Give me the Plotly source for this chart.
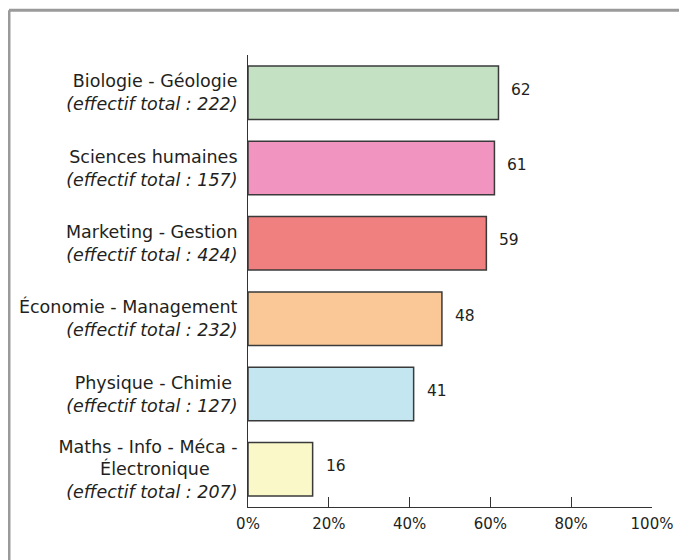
import plotly.graph_objects as go

categories = [
    "Biologie - Géologie<br><i>(effectif total : 222)</i>",
    "Sciences humaines<br><i>(effectif total : 157)</i>",
    "Marketing - Gestion<br><i>(effectif total : 424)</i>",
    "Économie - Management<br><i>(effectif total : 232)</i>",
    "Physique - Chimie <br><i>(effectif total : 127)</i>",
    "Maths - Info - Méca -<br>Électronique     <br><i>(effectif total : 207)</i>",
]
values = [62, 61, 59, 48, 41, 16]
colors = ["#c5e1c4", "#f194bf", "#f08080", "#fac897", "#c4e6f0", "#faf8c8"]
x_ticks = [0, 20, 40, 60, 80, 100]
x_tick_text = ["0%", "20%", "40%", "60%", "80%", "100%"]

FONT = "DejaVu Sans"
TXT = "#231f20"

fig = go.Figure()
fig.add_trace(go.Bar(
    x=values,
    y=categories,
    orientation="h",
    marker=dict(color=colors, line=dict(color="#3a3a3a", width=1.5)),
    width=0.71,
    hoverinfo="skip",
))

for v, c in zip(values, categories):
    fig.add_annotation(
        x=v, y=c, text=str(v), showarrow=False,
        xanchor="left", xshift=11, yshift=3,
        font=dict(family=FONT, size=15.5, color=TXT),
    )

# outer gray frame (partially visible)
fig.add_shape(type="line", xref="paper", yref="paper",
              x0=-0.5916, x1=1.2, y0=1.099, y1=1.099,
              line=dict(color="#9a9a9a", width=3))
fig.add_shape(type="line", xref="paper", yref="paper",
              x0=-0.5916, x1=-0.5916, y0=1.099, y1=-0.3,
              line=dict(color="#9a9a9a", width=3))

fig.update_layout(
    width=679, height=552,
    margin=dict(l=240, r=35, t=47, b=53),
    paper_bgcolor="white", plot_bgcolor="white",
    showlegend=False,
    font=dict(family=FONT, size=16, color=TXT),
)
fig.update_xaxes(
    range=[0, 100], tickvals=x_ticks, ticktext=x_tick_text,
    showgrid=False, zeroline=False,
    showline=True, linecolor="#333333", linewidth=1,
    ticks="inside", ticklen=10, tickcolor="#333333", tickwidth=1,
    ticklabelstandoff=3,
    tickfont=dict(family=FONT, size=15, color=TXT),
)
fig.update_yaxes(
    categoryorder="array", categoryarray=categories,
    autorange="reversed",
    showgrid=False, zeroline=False,
    showline=True, linecolor="#333333", linewidth=1,
    ticks="", ticklabelstandoff=6,
    tickfont=dict(family=FONT, size=17.5, color=TXT),
)

fig.write_html("out.html")
